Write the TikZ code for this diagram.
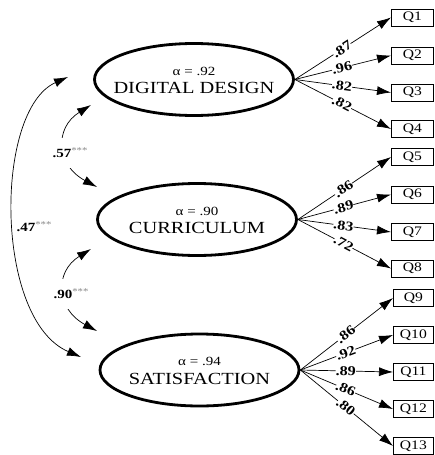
\documentclass[tikz,border=0pt]{standalone}
\usepackage{fontspec}
\setmainfont{Liberation Serif}[FakeStretch=1.2]
\usetikzlibrary{arrows.meta,shapes.geometric}
\definecolor{stargray}{RGB}{135,135,135}
\newcommand{\sigstars}{\raisebox{4pt}{\fontsize{9}{9}\mdseries\color{stargray}***}}
\tikzset{
  latent/.style={ellipse, draw, line width=2.8pt, minimum width=199pt,
    minimum height=72pt, inner sep=0pt},
  qbox/.style={draw, line width=0.8pt, minimum width=42pt, minimum height=17pt,
    inner sep=0pt, anchor=west, font=\fontsize{13}{13}\selectfont},
  qboxnarrow/.style={qbox, minimum width=40pt},
  load/.style={line width=0.7pt, -{Latex[length=14pt,width=9pt]}},
  lbl/.style={sloped, pos=0.49, fill=white, inner sep=0pt,
    font=\bfseries\fontsize{13.5}{13.5}\selectfont},
  corr/.style={line width=0.7pt,
    {Latex[length=14pt,width=9pt]}-{Latex[length=14pt,width=9pt]}},
  clbl/.style={fill=white, inner xsep=1pt, inner ysep=10pt,
    font=\bfseries\fontsize{12.5}{12.5}\selectfont},
  alphatxt/.style={inner sep=0pt, font=\fontsize{12.5}{12.5}\selectfont},
  lvtitle/.style={inner sep=0pt, font=\fontsize{17}{17}\selectfont}
}
\begin{document}
\begin{tikzpicture}[x=1pt, y=-1pt]
\useasboundingbox (0,0) rectangle (434,455);

% latent variables
\node[latent] (dd) at (194,79.5) {};
\node[alphatxt] (ddA) at (194,71) {α = .92};
\node[lvtitle] (ddT) at (194,88) {DIGITAL DESIGN};

\node[latent] (cu) at (197,219.5) {};
\node[alphatxt] (cuA) at (197,211) {α = .90};
\node[lvtitle] (cuT) at (197,228) {CURRICULUM};

\node[latent] (sa) at (199.5,370) {};
\node[alphatxt] (saA) at (199.5,361.5) {α = .94};
\node[lvtitle] (saT) at (199.5,378.5) {SATISFACTION};

% observed items
\node[qbox] (q1) at (391,17.5) {Q1};
\node[qbox] (q2) at (391,55.5) {Q2};
\node[qbox] (q3) at (391,92.5) {Q3};
\node[qbox] (q4) at (391,129) {Q4};
\node[qbox] (q5) at (391,157) {Q5};
\node[qbox] (q6) at (391,194.5) {Q6};
\node[qbox] (q7) at (391,232) {Q7};
\node[qbox] (q8) at (391,268.5) {Q8};
\node[qboxnarrow] (q9) at (393,298) {Q9};
\node[qboxnarrow] (q10) at (393,335) {Q10};
\node[qboxnarrow] (q11) at (393,372) {Q11};
\node[qboxnarrow] (q12) at (393,409) {Q12};
\node[qboxnarrow] (q13) at (393,446) {Q13};

% factor loadings
\draw[load] (dd.east) -- node[lbl] {.87} (q1.west);
\draw[load] (dd.east) -- node[lbl] {.96} (q2.west);
\draw[load] (dd.east) -- node[lbl] {.82} (q3.west);
\draw[load] (dd.east) -- node[lbl] {.82} (q4.west);

\draw[load] (cu.east) -- node[lbl] {.86} (q5.west);
\draw[load] (cu.east) -- node[lbl] {.89} (q6.west);
\draw[load] (cu.east) -- node[lbl] {.83} (q7.west);
\draw[load] (cu.east) -- node[lbl] {.72} (q8.west);

\draw[load] (sa.east) -- node[lbl] {.86} (q9.west);
\draw[load] (sa.east) -- node[lbl] {.92} (q10.west);
\draw[load] (sa.east) -- node[lbl] {.89} (q11.west);
\draw[load] (sa.east) -- node[lbl] {.86} (q12.west);
\draw[load] (sa.east) -- node[lbl] {.80} (q13.west);

% correlations between factors
\coordinate (c1s) at (91,105);
\coordinate (c1e) at (97,187);
\coordinate (c2s) at (91,249);
\coordinate (c2e) at (97,331);
\coordinate (c3s) at (68,77);
\coordinate (c3e) at (81,357);

\draw[corr] (c1s) .. controls (54,128) and (56,165) .. (c1e);
\draw[corr] (c2s) .. controls (54,272) and (56,309) .. (c2e);
\draw[corr] (c3s) .. controls (-6,110) and (-6,320) .. (c3e);

\node[clbl] (r1) at (70,153) {.57\sigstars};
\node[clbl] (r2) at (71,294) {.90\sigstars};
\node[clbl] (r3) at (34,227) {.47\sigstars};
\end{tikzpicture}
\end{document}
